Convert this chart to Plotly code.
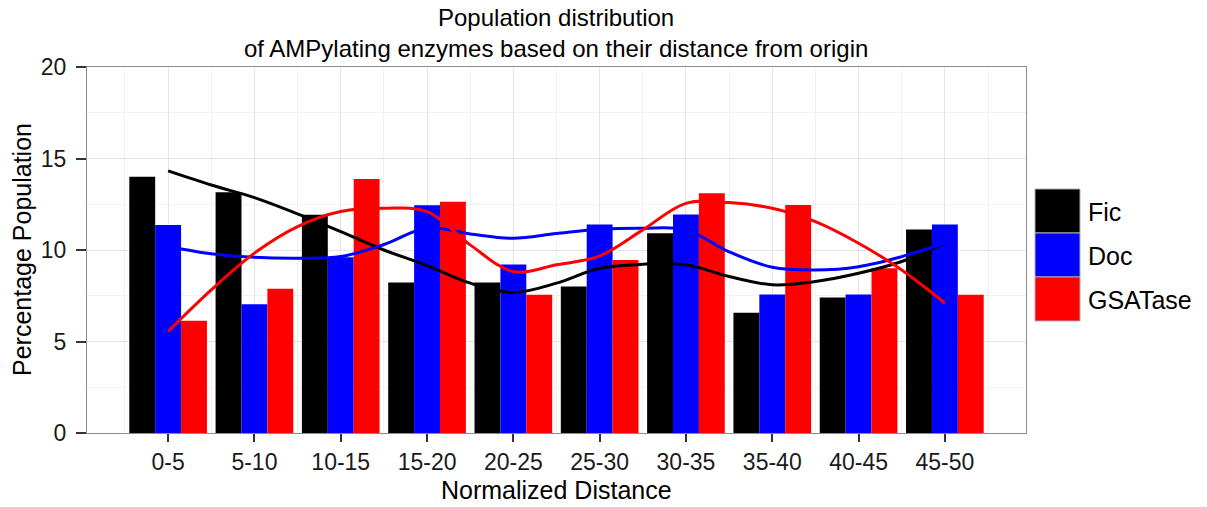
import plotly.graph_objects as go

# Distance bins (normalized distance from origin)
categories = ["0-5", "5-10", "10-15", "15-20", "20-25", "25-30", "30-35", "35-40", "40-45", "45-50"]

# Percentage population per bin
fic = [14.0, 13.15, 11.92, 8.22, 8.22, 8.01, 10.92, 6.57, 7.41, 11.12]
doc = [11.37, 7.04, 9.6, 12.45, 9.21, 11.39, 11.94, 7.57, 7.57, 11.39]
gsatase = [6.13, 7.88, 13.88, 12.63, 7.55, 9.46, 13.10, 12.46, 9.0, 7.55]

# Smoothed trends, sampled every half bin from the first bin to the last
smooth_step = 0.5
fic_smooth = [14.32, 13.55, 12.86, 11.97, 11.0, 10.0, 9.15, 8.19, 7.68, 8.19,
              9.0, 9.22, 9.19, 8.55, 8.1, 8.28, 8.73, 9.37, 10.37]
doc_smooth = [10.19, 9.79, 9.6, 9.55, 9.64, 10.3, 11.2, 10.88, 10.64, 10.9,
              11.13, 11.19, 11.1, 9.9, 9.06, 8.91, 9.09, 9.64, 10.37]
gsa_smooth = [5.55, 7.82, 9.83, 11.28, 12.1, 12.28, 12.1, 10.28, 8.82, 9.19,
              9.68, 11.1, 12.55, 12.59, 12.28, 11.55, 10.37, 8.91, 7.1]

series = [("Fic", fic, fic_smooth, "#000000"),
          ("Doc", doc, doc_smooth, "#0000ff"),
          ("GSATase", gsatase, gsa_smooth, "#ff0000")]

positions = list(range(1, len(categories) + 1))
smooth_x = [1 + i * smooth_step for i in range(len(fic_smooth))]

fig = go.Figure()
for name, vals, _, color in series:
    fig.add_trace(go.Bar(x=positions, y=vals, name=name, marker=dict(color=color, line=dict(width=0)),
                         showlegend=False))
for name, _, sm, color in series:
    fig.add_trace(go.Scatter(x=smooth_x, y=sm, mode="lines", line=dict(color=color, width=3, shape="spline"),
                             showlegend=False, hoverinfo="skip"))

FONT = "Liberation Sans, Arial, sans-serif"
W, H = 1207, 507
ML, MR, MT, MB = 87, 181, 67, 74

fig.update_layout(
    width=W, height=H,
    margin=dict(l=ML, r=MR, t=MT, b=MB),
    paper_bgcolor="white", plot_bgcolor="white",
    barmode="group", bargap=0.1, bargroupgap=0,
    font=dict(family=FONT, color="#1a1a1a"),
    showlegend=False,
)

grid_major = "#e4e4e4"
grid_minor = "#f2f2f2"
fig.update_xaxes(
    range=[0.06, len(categories) + 0.94],
    tickmode="array", tickvals=positions, ticktext=categories,
    tickfont=dict(size=23, color="#1a1a1a"),
    ticks="outside", ticklen=8, tickwidth=1.5, tickcolor="#333333",
    showgrid=True, gridcolor=grid_major, gridwidth=1,
    minor=dict(tickvals=[p + 0.5 for p in range(0, len(categories) + 1)], showgrid=True,
               gridcolor=grid_minor, gridwidth=1, ticks=""),
    showline=True, mirror=True, linecolor="#8c8c8c", linewidth=1,
    zeroline=False,
)
fig.update_yaxes(
    range=[0, 20], tickmode="linear", tick0=0, dtick=5,
    tickfont=dict(size=23, color="#1a1a1a"),
    ticks="outside", ticklen=10, tickwidth=1.5, tickcolor="#333333",
    ticklabelstandoff=5,
    showgrid=True, gridcolor=grid_major, gridwidth=1,
    minor=dict(dtick=2.5, showgrid=True, gridcolor=grid_minor, gridwidth=1, ticks=""),
    showline=True, mirror=True, linecolor="#8c8c8c", linewidth=1,
    zeroline=False,
)

pw = W - ML - MR
ph = H - MT - MB


def px_x(x):
    return (x - ML) / pw


def px_y(y):
    return (H - MB - y) / ph


def text(label, x, y, size, **kw):
    fig.add_annotation(text=label, xref="paper", yref="paper", x=px_x(x), y=px_y(y),
                       showarrow=False, font=dict(size=size, color="#000000"), **kw)


# Title (two centred lines)
text("Population distribution", 556, 17, 24, xanchor="center", yanchor="middle")
text("of AMPylating enzymes based on their distance from origin", 556, 48, 24,
     xanchor="center", yanchor="middle")

# Axis titles
text("Normalized Distance", 556, 490, 25, xanchor="center", yanchor="middle")
text("Percentage Population", 22, 250, 25, xanchor="center", yanchor="middle", textangle=-90)

# Legend: large filled keys with labels
key_left, key_right, key_top, key_h = 1035, 1080, 189, 44
for i, (name, _, _, color) in enumerate(series):
    y0 = key_top + i * key_h
    fig.add_shape(type="rect", xref="paper", yref="paper",
                  x0=px_x(key_left), x1=px_x(key_right), y0=px_y(y0 + key_h), y1=px_y(y0),
                  fillcolor=color, line=dict(color="#b0b0b0", width=1))
    text(name, key_right + 6, y0 + key_h / 2 + 1, 25, xanchor="left", yanchor="middle")

fig.write_html("out.html")
